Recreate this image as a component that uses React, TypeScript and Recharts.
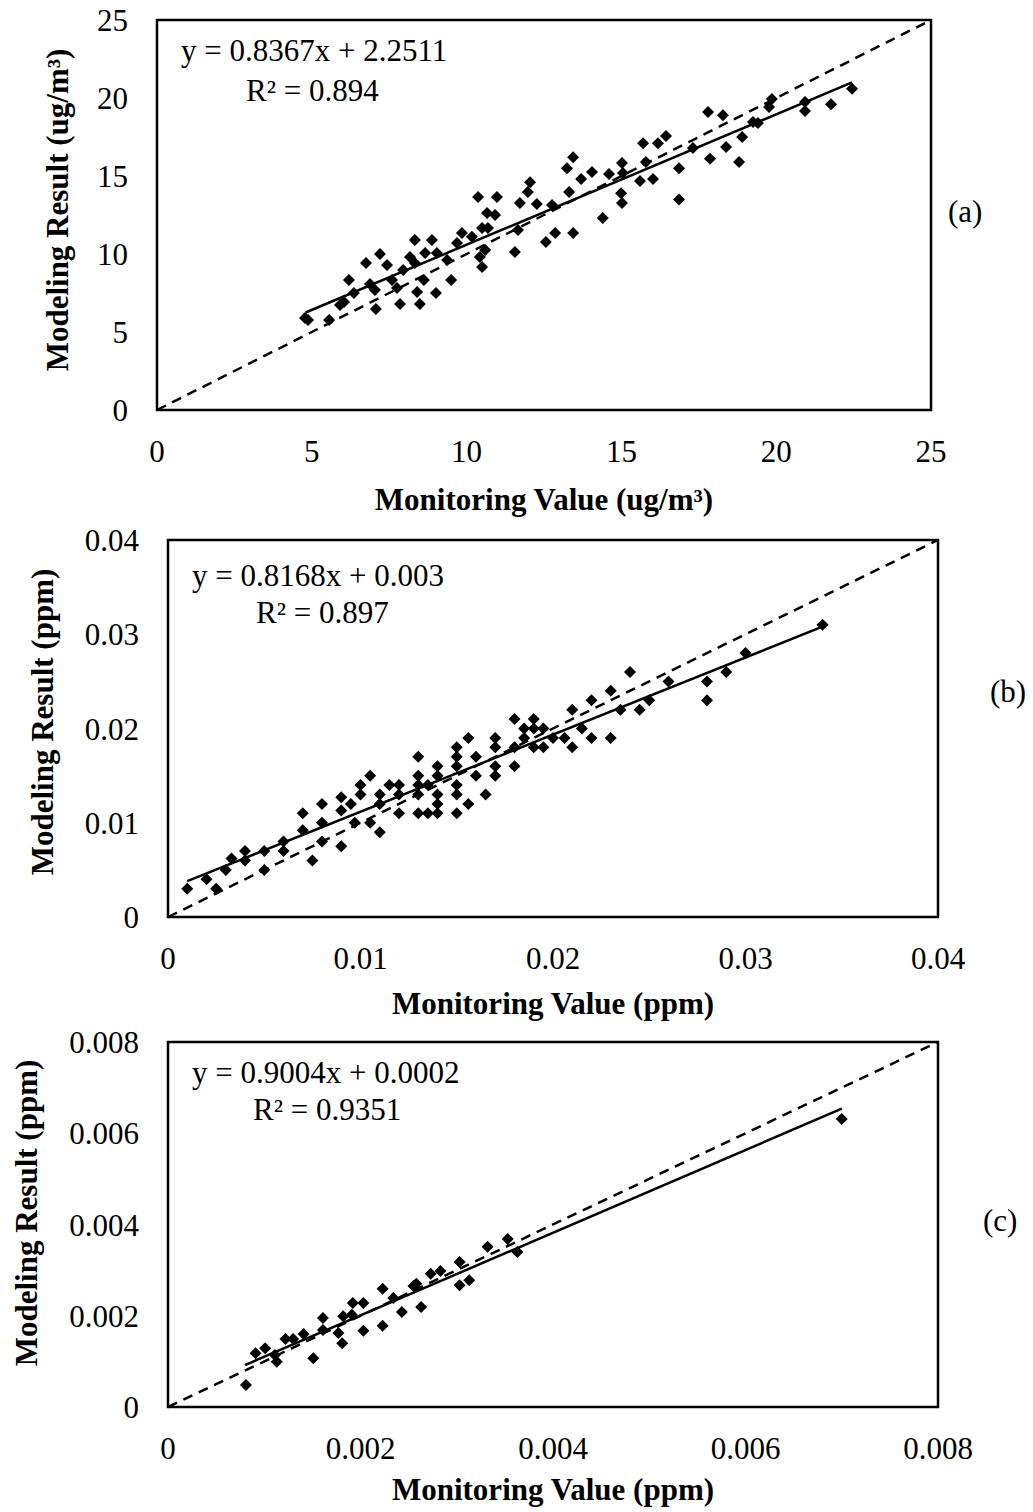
import React from 'react'
import { ReferenceArea, Scatter, ScatterChart, XAxis, YAxis } from 'recharts'

const FONT = '"Liberation Serif", "Times New Roman", serif'

// (a) PM2.5, ug/m3
const pmMonitoring = [
  4.78, 4.88, 5.56, 5.91, 6.04, 6.2, 6.36, 6.75, 6.88, 7.04, 7.07, 7.2, 7.43, 7.59, 7.75,
  7.85, 7.95, 8.17, 8.33, 8.33, 8.4, 8.49, 8.62, 8.66, 8.88, 9.01, 9.04, 9.37, 9.5, 9.69,
  9.85, 10.17, 10.37, 10.5, 10.5, 10.98, 10.66, 10.92, 10.69, 10.6, 10.43, 11.56, 11.66, 11.72, 11.98,
  12.05, 12.27, 12.56, 12.76, 12.86, 13.24, 13.31, 13.44, 13.44, 13.7, 14.05, 14.4, 14.6, 15.02, 15.05,
  14.99, 15.02, 15.6, 15.7, 15.79, 16.02, 16.18, 16.44, 16.86, 16.86, 17.31, 17.8, 17.86, 18.28, 18.38,
  18.8, 18.9, 19.25, 19.41, 19.77, 19.86, 20.93, 20.93, 21.77, 22.45,
]
const pmModeling = [
  5.9, 5.77, 5.77, 6.73, 6.92, 8.33, 7.5, 9.42, 8.08, 7.69, 6.47, 10.0, 9.29, 8.33, 7.82,
  6.79, 8.97, 9.81, 10.9, 9.42, 7.56, 6.79, 8.33, 10.06, 10.9, 7.5, 10.06, 9.62, 8.33, 10.7,
  11.35, 11.1, 13.65, 9.17, 11.67, 13.65, 12.63, 12.5, 11.67, 10.26, 9.81, 10.13, 11.54, 13.27, 13.97,
  14.6, 13.2, 10.77, 13.14, 11.35, 15.5, 13.97, 16.2, 11.35, 14.8, 15.26, 12.3, 15.13, 15.83, 15.19,
  13.9, 13.27, 14.68, 17.1, 15.9, 14.8, 17.1, 17.56, 15.5, 13.5, 16.8, 19.1, 16.1, 18.9, 16.86,
  15.9, 17.5, 18.46, 18.4, 19.42, 19.94, 19.74, 19.17, 19.6, 20.6,
]
const pmTicks = [0, 5, 10, 15, 20, 25]
const pmTrendX = [4.8, 22.45]
const pmTrendY = [6.25, 21.0]

// (b) ppm
const bMonitoring = [
  0.001, 0.002, 0.0025, 0.003, 0.0033, 0.004, 0.004, 0.005, 0.005, 0.006, 0.006, 0.007, 0.007, 0.0075, 0.008,
  0.008, 0.008, 0.009, 0.009, 0.009, 0.0095, 0.0097, 0.01, 0.01, 0.0105, 0.0105, 0.011, 0.011, 0.011, 0.0115,
  0.012, 0.012, 0.012, 0.013, 0.013, 0.013, 0.013, 0.013, 0.0135, 0.014, 0.0135, 0.014, 0.014, 0.014, 0.014,
  0.015, 0.015, 0.015, 0.015, 0.015, 0.015, 0.0156, 0.0156, 0.016, 0.016, 0.0165, 0.017, 0.017, 0.017, 0.017,
  0.018, 0.018, 0.018, 0.0185, 0.0185, 0.019, 0.019, 0.019, 0.0195, 0.0195, 0.02, 0.0206, 0.021, 0.021, 0.0215,
  0.022, 0.022, 0.023, 0.023, 0.0235, 0.024, 0.0245, 0.025, 0.026, 0.028, 0.028, 0.029, 0.03, 0.034,
]
const bModeling = [
  0.003, 0.004, 0.003, 0.005, 0.0062, 0.007, 0.006, 0.007, 0.005, 0.008, 0.007, 0.011, 0.0092, 0.006, 0.012,
  0.01, 0.008, 0.0127, 0.0113, 0.0075, 0.012, 0.01, 0.014, 0.013, 0.01, 0.015, 0.013, 0.012, 0.009, 0.014,
  0.014, 0.013, 0.011, 0.017, 0.015, 0.014, 0.013, 0.011, 0.011, 0.011, 0.014, 0.016, 0.015, 0.013, 0.012,
  0.018, 0.017, 0.016, 0.014, 0.013, 0.011, 0.019, 0.012, 0.017, 0.015, 0.013, 0.019, 0.018, 0.016, 0.015,
  0.021, 0.018, 0.016, 0.02, 0.019, 0.021, 0.02, 0.018, 0.02, 0.018, 0.019, 0.019, 0.022, 0.018, 0.02,
  0.023, 0.019, 0.024, 0.019, 0.022, 0.026, 0.022, 0.023, 0.025, 0.025, 0.023, 0.026, 0.028, 0.031,
]
const bTicks = [0, 0.01, 0.02, 0.03, 0.04]
const bTrendX = [0.001, 0.034]
const bTrendY = [0.0038, 0.0308]

// (c) ppm
const cMonitoring = [
  0.00081, 0.00091, 0.00101, 0.00111, 0.00113, 0.00122, 0.0013, 0.00141, 0.00151, 0.00161, 0.00161, 0.00177,
  0.00181, 0.00182, 0.00191, 0.00192, 0.00203, 0.00203, 0.00223, 0.00223, 0.00234, 0.00243, 0.00255, 0.00258,
  0.00263, 0.00273, 0.00283, 0.00303, 0.00303, 0.00313, 0.00332, 0.00353, 0.00363, 0.007,
]
const cModeling = [
  0.00048, 0.00118, 0.00129, 0.00114, 0.00099, 0.00149, 0.00149, 0.0016, 0.00107, 0.00195, 0.00169, 0.00162,
  0.0014, 0.00199, 0.00202, 0.00228, 0.00228, 0.00167, 0.00259, 0.00178, 0.00239, 0.00208, 0.00265, 0.0027,
  0.00219, 0.00292, 0.00298, 0.00318, 0.00267, 0.00278, 0.00351, 0.00368, 0.0034, 0.00631,
]
const cTicks = [0, 0.002, 0.004, 0.006, 0.008]
const cTrendX = [0.0008, 0.007]
const cTrendY = [0.00092, 0.00654]

const toPoints = (xs: number[], ys: number[]) => xs.map((x, i) => ({ x, y: ys[i] }))

const Diamond = (props: any) => {
  const { cx, cy } = props
  if (cx == null || cy == null) return <g />
  const r = 6
  return <path d={`M${cx},${cy - r}L${cx + r},${cy}L${cx},${cy + r}L${cx - r},${cy}Z`} fill="#000" />
}

const NoDot = () => <g />

const tickStyle = { fill: '#000', fontSize: 31, fontFamily: FONT }

type PanelProps = {
  top: number
  height: number
  margin: { top: number; right: number; bottom: number; left: number }
  xs: number[]
  ys: number[]
  trendX: number[]
  trendY: number[]
  ticks: number[]
}

function Panel({ top, height, margin, xs, ys, trendX, trendY, ticks }: PanelProps) {
  const max = ticks[ticks.length - 1]
  const points = toPoints(xs, ys)
  const trend = toPoints(trendX, trendY)
  const diag = toPoints([0, max], [0, max])
  return (
    <div style={{ position: 'absolute', left: 0, top }}>
      <ScatterChart width={1033} height={height} margin={margin}>
        <XAxis
          type="number"
          dataKey="x"
          domain={[0, max]}
          ticks={ticks}
          interval={0}
          axisLine={false}
          tickLine={false}
          tickSize={6}
          tickMargin={24}
          height={60}
          tick={tickStyle}
        />
        <YAxis
          type="number"
          dataKey="y"
          domain={[0, max]}
          ticks={ticks}
          interval={0}
          axisLine={false}
          tickLine={false}
          tickSize={6}
          tickMargin={23}
          width={60}
          tick={tickStyle}
        />
        <ReferenceArea
          x1={0}
          x2={max}
          y1={0}
          y2={max}
          fill="none"
          fillOpacity={0}
          stroke="#000"
          strokeWidth={2.5}
          ifOverflow="visible"
        />
        <Scatter
          data={diag}
          shape={NoDot}
          line={{ stroke: '#000', strokeWidth: 2.5, strokeDasharray: '10 7' }}
          isAnimationActive={false}
        />
        <Scatter
          data={trend}
          shape={NoDot}
          line={{ stroke: '#000', strokeWidth: 2.5 }}
          isAnimationActive={false}
        />
        <Scatter data={points} shape={Diamond} isAnimationActive={false} />
      </ScatterChart>
    </div>
  )
}

const txt = { fontFamily: FONT, fontSize: 31, fill: '#000' }
const bold = { ...txt, fontWeight: 700 }

export default function App() {
  return (
    <div style={{ position: 'absolute', left: 0, top: 0, width: 1033, height: 1512, background: '#fff' }}>
      <Panel
        top={0}
        height={520}
        margin={{ top: 20, right: 102, bottom: 50, left: 97 }}
        xs={pmMonitoring}
        ys={pmModeling}
        trendX={pmTrendX}
        trendY={pmTrendY}
        ticks={pmTicks}
      />
      <Panel
        top={520}
        height={500}
        margin={{ top: 20, right: 95, bottom: 43, left: 108 }}
        xs={bMonitoring}
        ys={bModeling}
        trendX={bTrendX}
        trendY={bTrendY}
        ticks={bTicks}
      />
      <Panel
        top={1022}
        height={490}
        margin={{ top: 20, right: 95, bottom: 45, left: 108 }}
        xs={cMonitoring}
        ys={cModeling}
        trendX={cTrendX}
        trendY={cTrendY}
        ticks={cTicks}
      />
      <svg
        width={1033}
        height={1512}
        style={{ position: 'absolute', left: 0, top: 0, pointerEvents: 'none' }}
      >
        <text x={181} y={61} style={txt}>y = 0.8367x + 2.2511</text>
        <text x={246} y={101} style={txt}>R² = 0.894</text>
        <text x={948} y={222} style={txt}>(a)</text>
        <text x={544} y={510} textAnchor="middle" style={bold}>Monitoring Value (ug/m³)</text>
        <text x={68} y={210} textAnchor="middle" transform="rotate(-90 68 210)" style={bold}>
          Modeling Result (ug/m³)
        </text>

        <text x={192} y={586} style={txt}>y = 0.8168x + 0.003</text>
        <text x={256} y={623} style={txt}>R² = 0.897</text>
        <text x={990} y={702} style={txt}>(b)</text>
        <text x={553} y={1014} textAnchor="middle" style={bold}>Monitoring Value (ppm)</text>
        <text x={53} y={722} textAnchor="middle" transform="rotate(-90 53 722)" style={bold}>
          Modeling Result (ppm)
        </text>

        <text x={192} y={1083} style={txt}>y = 0.9004x + 0.0002</text>
        <text x={253} y={1120} style={txt}>R² = 0.9351</text>
        <text x={983} y={1231} style={txt}>(c)</text>
        <text x={553} y={1500} textAnchor="middle" style={bold}>Monitoring Value (ppm)</text>
        <text x={37} y={1213} textAnchor="middle" transform="rotate(-90 37 1213)" style={bold}>
          Modeling Result (ppm)
        </text>
      </svg>
    </div>
  )
}
